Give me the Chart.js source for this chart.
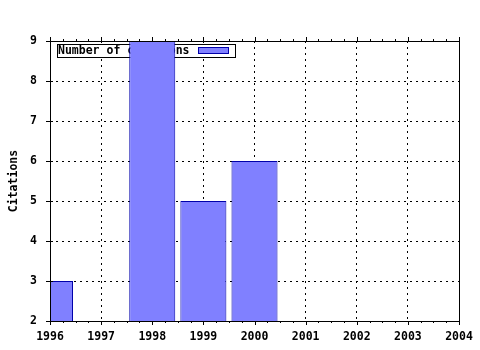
<!DOCTYPE html>
<html>
<head>
<meta charset="utf-8">
<script src="https://cdn.jsdelivr.net/npm/chart.js@4"></script>
<style>
  body { margin: 0; background: #fff; }
  canvas { display: block; }
</style>
</head>
<body>
<canvas id="chart" width="480" height="350"></canvas>
<script>
const years = [1996, 1998, 1999, 2000];
const citations = [3, 9, 5, 6];
const legendLabel = 'Number of citations';
const yTitle = 'Citations';

const FONT = 'DejaVu Sans Mono';
Chart.defaults.font = { family: FONT, size: 11.5, weight: 'bold' };
Chart.defaults.color = '#000';

// gnuplot-like frame, small tick marks and the key box
const framePlugin = {
  id: 'frame',
  beforeDatasetsDraw(chart) {
    const ctx = chart.ctx;
    const a = chart.chartArea;
    ctx.save();
    ctx.fillStyle = '#fff';
    ctx.fillRect(a.left + 7, a.top + 3, 179, 14);
    ctx.strokeStyle = '#000';
    ctx.lineWidth = 1;
    ctx.strokeRect(a.left + 7.5, a.top + 3.5, 178, 13);
    ctx.fillStyle = '#000';
    ctx.font = 'bold 11.5px ' + FONT;
    ctx.textBaseline = 'middle';
    ctx.fillText(legendLabel, a.left + 8, a.top + 10.5);
    ctx.fillStyle = '#8080ff';
    ctx.fillRect(a.left + 148, a.top + 6, 31, 6);
    ctx.strokeStyle = '#0000aa';
    ctx.strokeRect(a.left + 148.5, a.top + 6.5, 30, 6);
    ctx.restore();
  },
  afterDatasetsDraw(chart) {
    const ctx = chart.ctx;
    const a = chart.chartArea;
    const x = chart.scales.x, y = chart.scales.y;
    ctx.save();
    ctx.strokeStyle = '#000';
    ctx.lineWidth = 1;
    ctx.beginPath();
    for (let v = x.min; v <= x.max + 0.001; v += 0.25) {
      const px = Math.round(x.getPixelForValue(v)) + 0.5;
      const len = Math.abs(v - Math.round(v)) < 0.001 ? 4 : 2;
      ctx.moveTo(px, a.bottom);
      ctx.lineTo(px, a.bottom + len);
      ctx.moveTo(px, a.top);
      ctx.lineTo(px, a.top - len);
    }
    for (let v = y.min; v <= y.max; v += 1) {
      const py = Math.round(y.getPixelForValue(v)) + 0.5;
      ctx.moveTo(a.left - 4, py);
      ctx.lineTo(a.left + 3, py);
    }
    ctx.stroke();
    ctx.strokeRect(Math.round(a.left) + 0.5, Math.round(a.top) + 0.5,
      Math.round(a.right - a.left), Math.round(a.bottom - a.top));
    ctx.restore();
  }
};

new Chart(document.getElementById('chart'), {
  type: 'bar',
  data: {
    datasets: [{
      label: legendLabel,
      data: years.map((yr, i) => ({ x: yr, y: citations[i] })),
      backgroundColor: '#8080ff',
      borderColor: '#0000aa',
      borderWidth: 1,
      barPercentage: 0.9,
      categoryPercentage: 1.0
    }]
  },
  options: {
    responsive: false,
    animation: false,
    devicePixelRatio: 1,
    layout: { padding: { left: 0, top: 41, right: 21, bottom: 0 } },
    plugins: {
      legend: { display: false },
      tooltip: { enabled: false }
    },
    scales: {
      x: {
        type: 'linear',
        min: 1996,
        max: 2004,
        offset: false,
        afterFit(scale) {
          scale.height = 29;
          scale.paddingLeft = 0;
          scale.paddingRight = 0;
        },
        ticks: { stepSize: 1, padding: 9, callback: v => String(v) },
        grid: { offset: false, color: '#000', lineWidth: 1, drawTicks: false },
        border: { display: false, dash: [2, 4] }
      },
      y: {
        min: 2,
        max: 9,
        afterFit(scale) { scale.width = 50; },
        ticks: { stepSize: 1, padding: 13 },
        grid: { color: '#000', lineWidth: 1, drawTicks: false },
        border: { display: false, dash: [2, 4] },
        title: { display: true, text: yTitle, padding: { top: 7, bottom: 0 } }
      }
    }
  },
  plugins: [framePlugin]
});
</script>
</body>
</html>
